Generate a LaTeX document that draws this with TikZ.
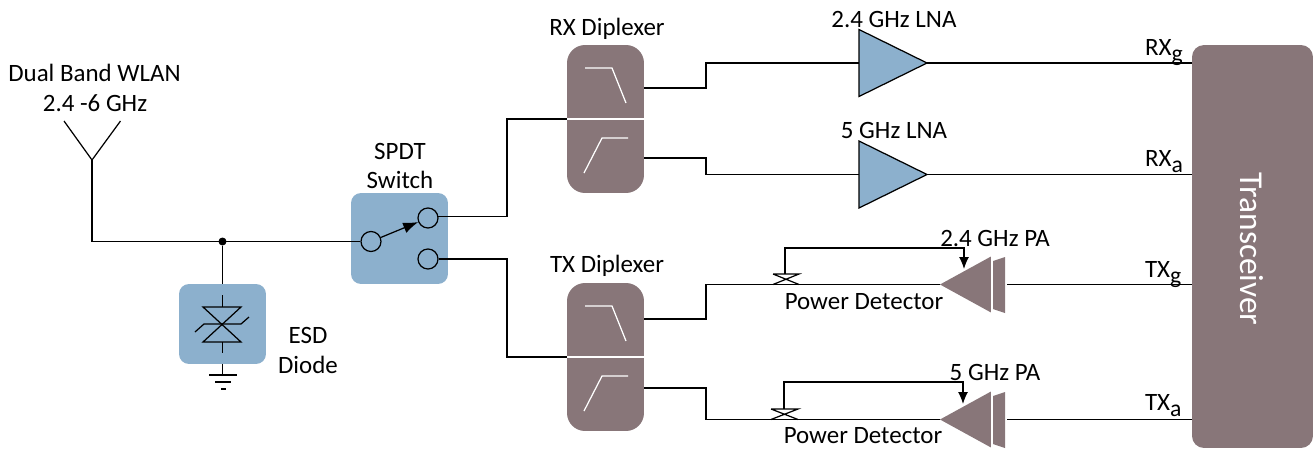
\documentclass[tikz,border=0pt]{standalone}
\usepackage{fontspec}
\setmainfont{Carlito}
\usetikzlibrary{shapes.geometric, arrows.meta}
\definecolor{bluefill}{HTML}{8CB0CD}
\definecolor{greyfill}{HTML}{887679}
\newcommand{\subtxt}[1]{\raisebox{-0.25em}{\fontsize{13.5}{15}\selectfont #1}}
\tikzstyle{label} = [inner sep = 0, outer sep = 0, text = black, font = \fontsize{14.2}{16}\selectfont, align = center]
\tikzstyle{wire} = [line width = 0.7pt, draw = black]
\tikzstyle{bluebox} = [fill = bluefill, rounded corners = 0.2cm, inner sep = 0, outer sep = 0]
\tikzstyle{diplexer} = [fill = greyfill, rounded corners = 0.36cm, inner sep = 0, outer sep = 0, minimum width = 1.54cm, minimum height = 2.96cm]
\tikzstyle{lna} = [draw, line width = 0.7pt, fill = bluefill, isosceles triangle, isosceles triangle stretches, inner sep = 0, outer sep = 0, anchor = apex, minimum height = 1.36cm, minimum width = 1.34cm]
\tikzstyle{pa} = [fill = greyfill, isosceles triangle, isosceles triangle stretches, shape border rotate = 180, inner sep = 0, outer sep = 0, anchor = apex, minimum height = 1.02cm, minimum width = 1.12cm]
\tikzstyle{contact} = [draw, circle, line width = 0.7pt, inner sep = 0, minimum size = 0.4cm]
\begin{document}
\begin{tikzpicture}[x = 0.02cm, y = -0.02cm]
	\useasboundingbox (0, 0) rectangle (1313, 450);

	% blocks
	\node [bluebox, minimum width = 1.94cm, minimum height = 1.82cm] at (399.5, 238.5) (switch) {};
	\node [bluebox, minimum width = 1.74cm, minimum height = 1.6cm] at (222.5, 324) (esd) {};
	\node [diplexer] at (605.5, 119) (rxdip) {};
	\node [diplexer] at (605.5, 357) (txdip) {};
	\node [fill = greyfill, rounded corners = 0.24cm, inner sep = 0, outer sep = 0, minimum width = 2.42cm, minimum height = 8.06cm] at (1252.5, 246.5) (trx) {};
	\node [lna] at (927, 63) (lnag) {};
	\node [lna] at (927, 174.5) (lnaa) {};
	\node [pa] at (940, 284.5) (pag) {};
	\node [pa] at (940, 419.5) (paa) {};
	\node [contact] at (371, 241.5) (swin) {};
	\node [contact] at (428, 218) (swtop) {};
	\node [contact] at (428, 259) (swbot) {};
	\node [fill, circle, inner sep = 0, minimum size = 0.16cm] at (222.5, 241.5) (dot) {};

	% free ends of the wires
	\coordinate (ant) at (92, 160);
	\coordinate (gnd) at (222.5, 375);
	\coordinate (rxin) at (507, 119);
	\coordinate (txin) at (507, 357);
	\coordinate (rxhi) at (644, 88);
	\coordinate (rxlo) at (644, 158);
	\coordinate (txhi) at (644, 319);
	\coordinate (txlo) at (644, 388);
	\coordinate (jog1) at (706, 63);
	\coordinate (jog2) at (706, 174.5);
	\coordinate (jog3) at (706, 284.5);
	\coordinate (jog4) at (706, 419.5);
	\coordinate (pdg) at (785, 274);
	\coordinate (pda) at (784, 409);
	\coordinate (fbg) at (964, 248);
	\coordinate (fba) at (963, 382);
	\coordinate (arrg) at (964, 269);
	\coordinate (arra) at (963, 404);
	\coordinate (pagin) at (1007, 284.5);
	\coordinate (paain) at (1007, 419.5);
	\coordinate (rxg) at (trx.west |- lnag.apex);
	\coordinate (rxa) at (trx.west |- lnaa.apex);
	\coordinate (txg) at (trx.west |- pag.apex);
	\coordinate (txa) at (trx.west |- paa.apex);

	% driver stages of the PAs
	\fill [greyfill] (993, 261) -- (1005, 257) -- (1005, 313) -- (993, 309) -- cycle;
	\fill [greyfill] (993, 396) -- (1005, 392) -- (1005, 448) -- (993, 444) -- cycle;

	% antenna and ESD
	\draw [wire] (64, 121) -- (ant) -- (120.5, 121);
	\draw [wire] (ant) |- (swin);
	\draw [wire] (dot) -- (esd);
	\draw [wire] (esd) -- (gnd);
	\draw [wire] (209, 375) -- (237, 375);
	\draw [wire] (215, 382) -- (231, 382);
	\draw [wire] (221, 389) -- (226, 389);
	\draw [wire] (222.5, 295) -- (222.5, 307);
	\draw [wire] (222.5, 342) -- (222.5, 353);
	\draw [wire] (203, 307) -- (241, 307) -- (203, 342) -- (241, 342) -- cycle;
	\draw [wire] (195, 332) -- (204, 324) -- (241, 324) -- (249, 317);

	% switch and wires
	\draw [-{Latex[length = 0.3cm, width = 0.22cm]}, wire] (swin) -- (swtop);
	\draw [wire] (swtop.10) -| (rxin) -- (rxdip.west);
	\draw [wire] (swbot) -| (txin) -- (txdip.west);
	\draw [wire] (rxhi) -| (jog1) -- (lnag.lower side);
	\draw [wire] (rxlo) -| (jog2) -- (lnaa.lower side);
	\draw [wire] (txhi) -| (jog3) -- (pag.apex);
	\draw [wire] (txlo) -| (jog4) -- (paa.apex);
	\draw [wire] (lnag.apex) -- (rxg);
	\draw [wire] (lnaa.apex) -- (rxa);
	\draw [wire] (pagin) -- (txg);
	\draw [wire] (paain) -- (txa);

	% power detectors
	\draw [wire] (pdg) ++(-12, 0) -- ++(26, 0) -- ++(-26, 10.5) ++(0, -10.5) -- ++(26, 10.5);
	\draw [wire] (pda) ++(-13, 0) -- ++(27, 0) -- ++(-27, 10.5) ++(0, -10.5) -- ++(27, 10.5);
	\draw [-{Latex[length = 0.24cm, width = 0.2cm]}, wire] (pdg) |- (fbg) -- (arrg);
	\draw [-{Latex[length = 0.24cm, width = 0.2cm]}, wire] (pda) |- (fba) -- (arra);

	% filters
	\draw [white, line width = 0.7pt] (rxdip.west) -- (rxdip.east);
	\draw [white, line width = 0.7pt] (585, 68) -- (612, 68) -- (626, 103);
	\draw [white, line width = 0.7pt] (584, 173) -- (602, 138) -- (628, 138);
	\draw [white, line width = 0.7pt] (txdip.west) -- (txdip.east);
	\draw [white, line width = 0.7pt] (585, 306) -- (612, 306) -- (626, 341);
	\draw [white, line width = 0.7pt] (584, 411) -- (602, 376) -- (628, 376);

	% labels
	\node [label] at (94.5, 73) (wlan) {Dual Band WLAN};
	\node [label] at (95, 103) (band) {2.4 -6 GHz};
	\node [label] at (400, 151) (spdt) {SPDT};
	\node [label] at (400, 180) (swname) {Switch};
	\node [label] at (308, 335) (esdname) {ESD};
	\node [label] at (308, 365) (diode) {Diode};
	\node [label] at (607, 29) (rxname) {RX Diplexer};
	\node [label] at (607, 266) (txname) {TX Diplexer};
	\node [label] at (894, 20) (lnaglab) {2.4 GHz LNA};
	\node [label] at (894, 130) (lnaalab) {5 GHz LNA};
	\node [label] at (995, 238) (paglab) {2.4 GHz PA};
	\node [label] at (995, 372) (paalab) {5 GHz PA};
	\node [label] at (864, 302) (pdglab) {Power Detector};
	\node [label] at (863, 436) (pdalab) {Power Detector};
	\node [label, anchor = base west] at (1145, 55) (rxglab) {RX\subtxt{g}};
	\node [label, anchor = base west] at (1145, 166) (rxalab) {RX\subtxt{a}};
	\node [label, anchor = base west] at (1145, 277) (txglab) {TX\subtxt{g}};
	\node [label, anchor = base west] at (1145, 410) (txalab) {TX\subtxt{a}};
	\node [label, text = white, rotate = -90, font = \fontsize{19}{21}\selectfont] at (1252, 249) (trxname) {Transceiver};
\end{tikzpicture}
\end{document}
